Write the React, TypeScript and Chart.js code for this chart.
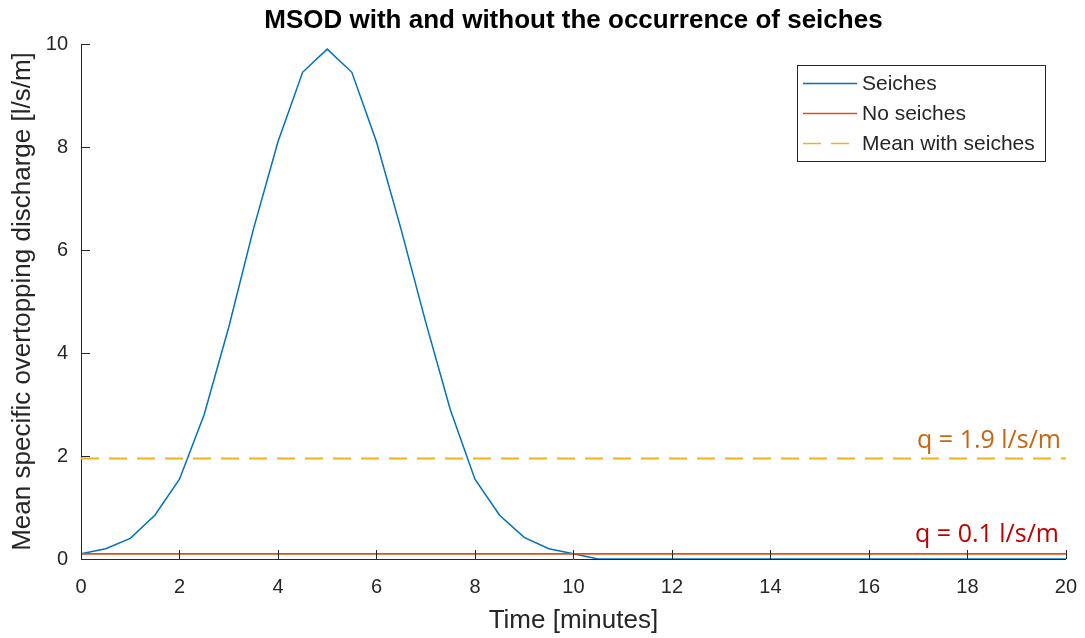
import React, { useEffect, useRef } from "react";
import { Chart, registerables } from "chart.js";

Chart.register(...registerables);

const timeMinutes = [
  0, 0.5, 1, 1.5, 2, 2.5, 3, 3.5, 4, 4.5, 5, 5.5, 6, 6.5, 7, 7.5, 8, 8.5, 9, 9.5, 10,
  10.5, 11, 11.5, 12, 12.5, 13, 13.5, 14, 14.5, 15, 15.5, 16, 16.5, 17, 17.5, 18, 18.5,
  19, 19.5, 20,
];
const seichesValues = [
  0.1, 0.2, 0.4, 0.85, 1.55, 2.8, 4.5, 6.4, 8.1, 9.45, 9.9, 9.45, 8.1, 6.4, 4.6, 2.9, 1.55,
  0.85, 0.42, 0.2, 0.1, 0, 0, 0, 0, 0, 0, 0, 0, 0, 0, 0, 0, 0, 0, 0, 0, 0, 0, 0, 0,
];
const noSeichesTimes = [0, 20];
const noSeichesValues = [0.1, 0.1];
const meanTimes = [0, 20];
const meanValues = [1.95, 1.95];

const seriesLabels = ["Seiches", "No seiches", "Mean with seiches"];
const chartTitle = "MSOD with and without the occurrence of seiches";
const xAxisTitle = "Time [minutes]";
const yAxisTitle = "Mean specific overtopping discharge [l/s/m]";
const annotationHigh = "q = 1.9 l/s/m";
const annotationLow = "q = 0.1 l/s/m";
const xTicks = [0, 2, 4, 6, 8, 10, 12, 14, 16, 18, 20];
const yTicks = [0, 2, 4, 6, 8, 10];

const BLUE = "#0072BD";
const ORANGE = "#D95319";
const YELLOW = "#EDB120";
const AXIS = "#262626";
const FONT = "'Liberation Sans', Arial, sans-serif";

const toPoints = (xs: number[], ys: number[]) => xs.map((x, i) => ({ x, y: ys[i] }));

const overlayPlugin = {
  id: "overlay",
  afterDraw(chart: any) {
    const ctx = chart.ctx as CanvasRenderingContext2D;
    const xs = chart.scales.x;
    const ys = chart.scales.y;
    const area = chart.chartArea;
    ctx.save();
    // inward ticks
    ctx.strokeStyle = AXIS;
    ctx.lineWidth = 1;
    ctx.beginPath();
    xTicks.forEach((t) => {
      const px = Math.round(xs.getPixelForValue(t)) + 0.5;
      ctx.moveTo(px, area.bottom);
      ctx.lineTo(px, area.bottom - 9);
    });
    yTicks.forEach((t) => {
      const py = Math.round(ys.getPixelForValue(t)) + 0.5;
      ctx.moveTo(area.left, py);
      ctx.lineTo(area.left + 9, py);
    });
    ctx.stroke();

    // title
    ctx.fillStyle = "#000";
    ctx.font = `bold 26px ${FONT}`;
    ctx.textAlign = "center";
    ctx.textBaseline = "middle";
    ctx.fillText(chartTitle, (area.left + area.right) / 2, 21);

    // annotations
    ctx.textAlign = "right";
    ctx.textBaseline = "alphabetic";
    ctx.font = `25px 'Open Sans', ${FONT}`;
    ctx.fillStyle = "#C8650F";
    ctx.fillText(annotationHigh, 1061, 448);
    ctx.fillStyle = "#C00000";
    ctx.fillText(annotationLow, 1059, 542);

    // legend
    const lx = 797, ly = 65, lw = 248, lh = 96;
    ctx.fillStyle = "#fff";
    ctx.fillRect(lx, ly, lw, lh);
    ctx.strokeStyle = AXIS;
    ctx.lineWidth = 1;
    ctx.strokeRect(lx + 0.5, ly + 0.5, lw, lh);
    const rows = [83, 113, 143];
    const colors = [BLUE, ORANGE, YELLOW];
    rows.forEach((ry, i) => {
      ctx.strokeStyle = colors[i];
      ctx.lineWidth = 1.5;
      ctx.setLineDash(i === 2 ? [18, 10] : []);
      ctx.beginPath();
      ctx.moveTo(803, ry + 0.5);
      ctx.lineTo(857, ry + 0.5);
      ctx.stroke();
      ctx.setLineDash([]);
      ctx.fillStyle = AXIS;
      ctx.font = `21px ${FONT}`;
      ctx.textAlign = "left";
      ctx.textBaseline = "middle";
      ctx.fillText(seriesLabels[i], 862, ry + 1);
    });
    ctx.restore();
  },
};

export default function App() {
  const canvasRef = useRef<HTMLCanvasElement | null>(null);

  useEffect(() => {
    document.body.style.margin = "0";
    const canvas = canvasRef.current;
    if (!canvas) return;
    const chart = new Chart(canvas, {
      type: "line",
      data: {
        datasets: [
          {
            label: seriesLabels[0],
            data: toPoints(timeMinutes, seichesValues),
            borderColor: BLUE,
            borderWidth: 1.5,
            pointRadius: 0,
            tension: 0,
            order: 1,
          },
          {
            label: seriesLabels[1],
            data: toPoints(noSeichesTimes, noSeichesValues),
            borderColor: ORANGE,
            borderWidth: 1.6,
            pointRadius: 0,
            order: 0,
          },
          {
            label: seriesLabels[2],
            data: toPoints(meanTimes, meanValues),
            borderColor: YELLOW,
            borderWidth: 2,
            borderDash: [18, 10],
            pointRadius: 0,
            order: 2,
          },
        ],
      },
      options: {
        animation: false,
        responsive: true,
        maintainAspectRatio: false,
        layout: { padding: { left: 0, top: 44, right: 7, bottom: 0 } },
        plugins: {
          legend: { display: false },
          title: { display: false },
          tooltip: { enabled: false },
        },
        scales: {
          x: {
            type: "linear",
            min: 0,
            max: 20,
            afterFit: (s: any) => {
              s.height = 79;
            },
            afterBuildTicks: (s: any) => {
              s.ticks = xTicks.map((v) => ({ value: v }));
            },
            grid: { display: false },
            border: { display: true, color: AXIS, width: 1 },
            ticks: {
              color: AXIS,
              font: { family: FONT, size: 20 },
              padding: 8,
              maxRotation: 0,
            },
            title: {
              display: true,
              text: xAxisTitle,
              color: AXIS,
              font: { family: FONT, size: 26 },
              padding: { top: 0, bottom: 2 },
            },
          },
          y: {
            type: "linear",
            min: 0,
            max: 10,
            afterFit: (s: any) => {
              s.width = 81;
            },
            afterBuildTicks: (s: any) => {
              s.ticks = yTicks.map((v) => ({ value: v }));
            },
            grid: { display: false },
            border: { display: true, color: AXIS, width: 1 },
            ticks: {
              color: AXIS,
              font: { family: FONT, size: 20 },
              padding: 5,
            },
            title: {
              display: true,
              text: yAxisTitle,
              color: AXIS,
              font: { family: FONT, size: 26 },
              padding: { top: 7, bottom: 0 },
            },
          },
        },
      },
      plugins: [overlayPlugin],
    });
    return () => chart.destroy();
  }, []);

  return (
    <div style={{ position: "fixed", left: 0, top: 0, width: 1085, height: 638, background: "#fff" }}>
      <canvas ref={canvasRef} />
    </div>
  );
}
